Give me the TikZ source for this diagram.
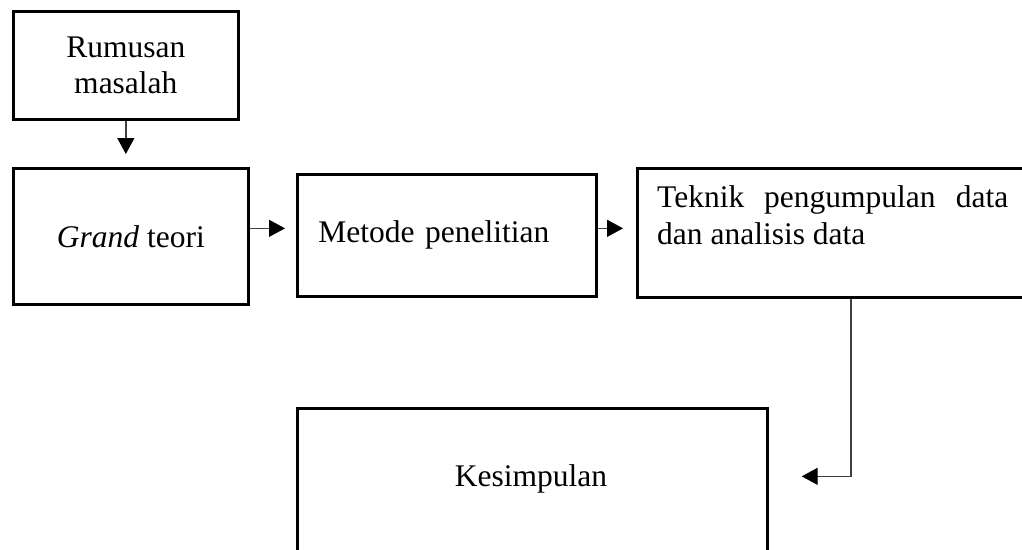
\documentclass[tikz,border=0pt]{standalone}
\usepackage{fontspec}
\setmainfont{Liberation Serif}
\usetikzlibrary{arrows.meta,calc}
\begin{document}
\begin{tikzpicture}[x=1pt,y=-1pt,
  every node/.style={font=\fontsize{31.5}{36.5}\selectfont},
  box/.style={draw=black,line width=2.7pt,rectangle,inner sep=0pt,anchor=north west},
  txt/.style={inner sep=0pt},
  conn/.style={draw=black!75,line width=1.3pt,-{Triangle[length=16pt,width=17pt,color=black]}}]
\useasboundingbox (0,0) rectangle (1022,549);
\clip (0,0) rectangle (1022,549);
\fill[white] (0,0) rectangle (1022,549);
% boxes
\node[box,minimum width=225pt,minimum height=108pt,align=center] (rum) at (12,10) {Rumusan\\masalah};
\node[box,minimum width=235pt,minimum height=136pt] (grand) at (12,167) {\textit{Grand} teori};
\node[box,minimum width=299pt,minimum height=122pt,inner xsep=21pt,text width=257pt,align=left] (met) at (296,173) {Metode penelitian};
\node[box,minimum width=400pt,minimum height=129pt] (tek) at (636,167) {};
\node[txt,anchor=north west,align=left] (tektext) at (657,185.5) {\makebox[351pt][s]{Teknik pengumpulan data}\\dan analisis data};
\node[box,minimum width=470pt,minimum height=153pt] (kes) at (296,407) {};
\node[txt,anchor=base] (kestext) at (531,486) {Kesimpulan};
% connectors
\coordinate (bend) at (851,475);
\draw[conn,shorten >=13pt] (rum.south) -- (rum.south |- grand.north);
\draw[conn,shorten >=11pt] ([yshift=8pt]grand.east) -- ([yshift=8pt]grand.east -| met.west);
\draw[conn,shorten >=13pt] ([yshift=7pt]met.east) -- ([yshift=7pt]met.east -| tek.west);
\draw[conn,shorten >=33pt] (tek.south -| bend) |- ([yshift=8.5pt]kes.east);
\end{tikzpicture}
\end{document}
